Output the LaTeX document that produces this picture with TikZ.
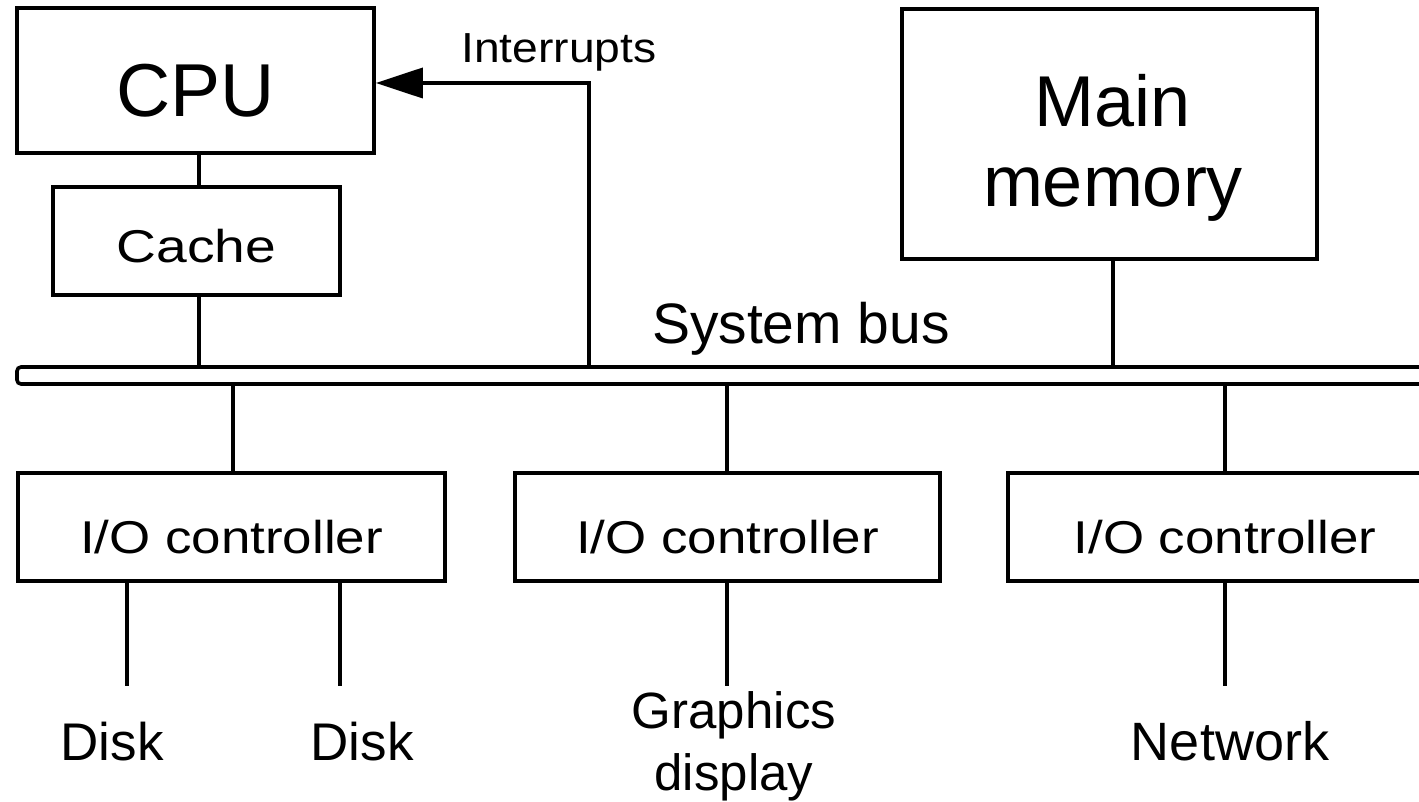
\documentclass[tikz,border=0pt]{standalone}
\usepackage{fontspec}
\usepackage{graphicx}
\setmainfont{Liberation Sans}
\usetikzlibrary{arrows.meta}
\begin{document}
\begin{tikzpicture}[x=1pt,y=-1pt,line width=3.6pt,
  box/.style={draw, rectangle, inner sep=0pt, line width=3.6pt},
  lbl/.style={inner sep=0pt, anchor=base},
  conn/.style={line width=3.6pt},
  intarrow/.style={conn, -{Triangle[length=47pt,width=30pt]}}]
\useasboundingbox (0,0) rectangle (1419,802);

% boxes
\node[box, minimum width=357pt, minimum height=145pt, text height=73pt, text depth=0pt,
      font=\fontsize{75}{80}\selectfont] (cpu) at (195.5,80.5) {CPU};
\node[box, minimum width=287pt, minimum height=108pt, text height=44pt, text depth=0pt,
      font=\fontsize{46}{50}\selectfont] (cache) at (196.5,241) {\scalebox{1.2}[1]{Cache}};
\node[box, minimum width=415pt, minimum height=250pt] (mem) at (1109.5,134) {};
\node[lbl, align=center, font=\fontsize{72}{80}\selectfont] (memlbl) at (1113,207) {Main\\memory};
\node[box, minimum width=427pt, minimum height=108pt, text height=52pt, text depth=0pt,
      font=\fontsize{46}{50}\selectfont] (io1) at (231.5,527) {\scalebox{1.15}[1]{I/O controller}};
\node[box, minimum width=425pt, minimum height=108pt, text height=52pt, text depth=0pt,
      font=\fontsize{46}{50}\selectfont] (io2) at (727.5,527) {\scalebox{1.15}[1]{I/O controller}};
\node[box, minimum width=434pt, minimum height=108pt, text height=52pt, text depth=0pt,
      font=\fontsize{46}{50}\selectfont] (io3) at (1225,527) {\scalebox{1.15}[1]{I/O controller}};

% system bus
\draw[conn, rounded corners=4pt] (1440,367) -- (17,367) -- (17,384) -- (1440,384);
\node[lbl, font=\fontsize{57}{60}\selectfont] (buslbl) at (801,343) {System bus};

% bus taps
\coordinate (bcache) at (199,367);
\coordinate (bint) at (589,367);
\coordinate (bmem) at (1113,367);
\coordinate (bio1) at (233,384);
\coordinate (bio2) at (727,384);
\coordinate (bio3) at (1225,384);
\coordinate (ic) at (589,83);

\draw[conn] (cpu.south -| bcache) -- (cache.north -| bcache);
\draw[conn] (cache.south -| bcache) -- (bcache);
\draw[conn] (mem.south -| bmem) -- (bmem);
\draw[conn] (bio1) -- (io1.north -| bio1);
\draw[conn] (bio2) -- (io2.north -| bio2);
\draw[conn] (bio3) -- (io3.north -| bio3);

% interrupts
\draw[intarrow] (bint) -- (ic) -- (ic -| cpu.east);
\node[lbl, font=\fontsize{42}{44}\selectfont] (intlbl) at (559,63) {\scalebox{1.1}[1]{Interrupts}};

% devices
\coordinate (d1) at (127,686);
\coordinate (d2) at (340,686);
\coordinate (gd) at (727,686);
\coordinate (nw) at (1225,686);
\draw[conn] (io1.south -| d1) -- (d1);
\draw[conn] (io1.south -| d2) -- (d2);
\draw[conn] (io2.south -| gd) -- (gd);
\draw[conn] (io3.south -| nw) -- (nw);

\node[lbl, font=\fontsize{53}{60}\selectfont] (disk1) at (112,760) {Disk};
\node[lbl, font=\fontsize{53}{60}\selectfont] (disk2) at (362,760) {Disk};
\node[lbl, align=center, font=\fontsize{51}{62}\selectfont] (gfx) at (734,790) {Graphics\\display};
\node[lbl, font=\fontsize{54}{60}\selectfont] (net) at (1230,760) {Network};
\end{tikzpicture}
\end{document}
